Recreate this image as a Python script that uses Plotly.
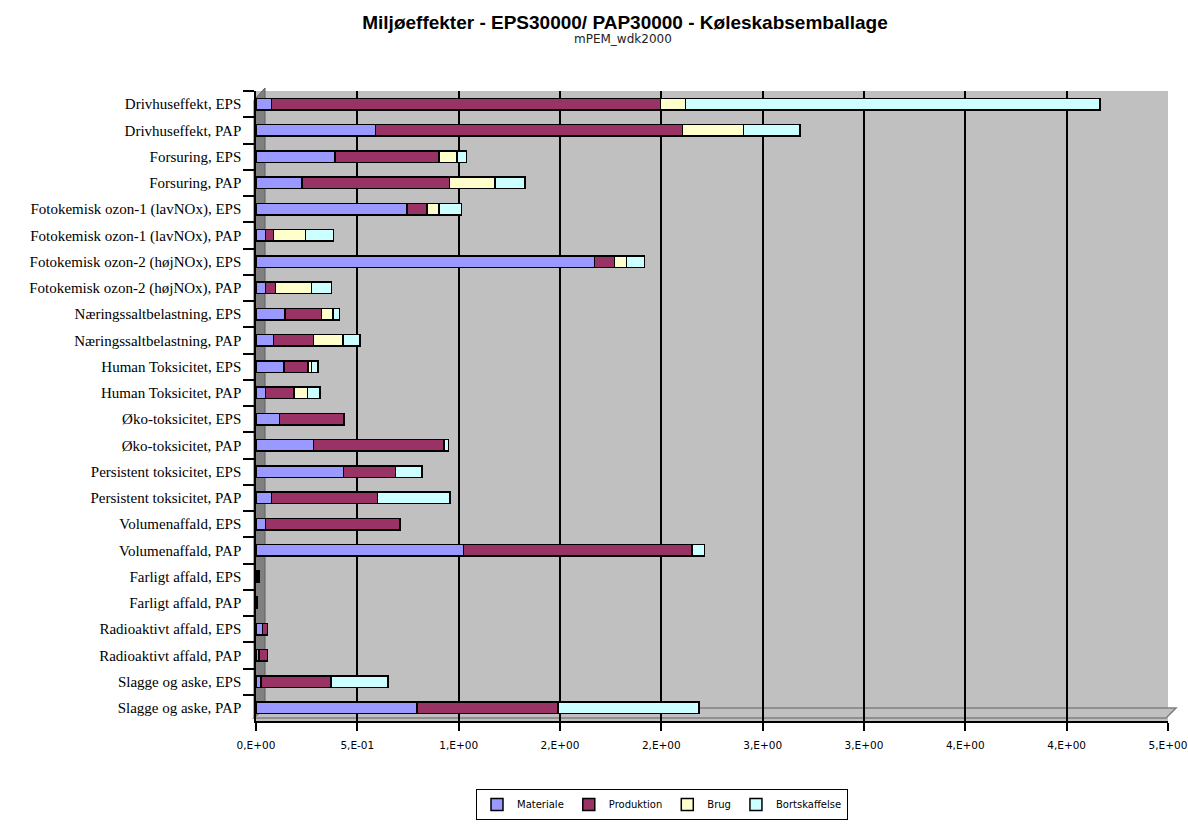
import plotly.graph_objects as go

categories = [
    "Drivhuseffekt, EPS", "Drivhuseffekt, PAP",
    "Forsuring, EPS", "Forsuring, PAP",
    "Fotokemisk ozon-1 (lavNOx), EPS", "Fotokemisk ozon-1 (lavNOx), PAP",
    "Fotokemisk ozon-2 (højNOx), EPS", "Fotokemisk ozon-2 (højNOx), PAP",
    "Næringssaltbelastning, EPS", "Næringssaltbelastning, PAP",
    "Human Toksicitet, EPS", "Human Toksicitet, PAP",
    "Øko-toksicitet, EPS", "Øko-toksicitet, PAP",
    "Persistent toksicitet, EPS", "Persistent toksicitet, PAP",
    "Volumenaffald, EPS", "Volumenaffald, PAP",
    "Farligt affald, EPS", "Farligt affald, PAP",
    "Radioaktivt affald, EPS", "Radioaktivt affald, PAP",
    "Slagge og aske, EPS", "Slagge og aske, PAP",
]

materiale = [0.077, 0.589, 0.390, 0.226, 0.746, 0.046, 1.670, 0.046, 0.144, 0.087,
             0.138, 0.046, 0.115, 0.284, 0.431, 0.077, 0.046, 1.023, 0.005, 0.002,
             0.033, 0.016, 0.025, 0.795]
produktion = [1.920, 1.516, 0.513, 0.728, 0.097, 0.041, 0.099, 0.049, 0.179, 0.197,
              0.118, 0.141, 0.319, 0.641, 0.258, 0.523, 0.664, 1.129, 0.005, 0.002,
              0.024, 0.041, 0.344, 0.694]
brug = [0.123, 0.300, 0.090, 0.226, 0.059, 0.156, 0.059, 0.180, 0.057, 0.146,
        0.018, 0.067, 0.000, 0.006, 0.000, 0.000, 0.000, 0.000, 0.000, 0.000,
        0.000, 0.000, 0.000, 0.000]
bortskaffelse = [2.045, 0.280, 0.046, 0.148, 0.111, 0.139, 0.090, 0.097, 0.033, 0.082,
                 0.031, 0.061, 0.000, 0.020, 0.131, 0.357, 0.000, 0.061, 0.008, 0.001,
                 0.000, 0.000, 0.283, 0.696]

series_names = ["Materiale", "Produktion", "Brug", "Bortskaffelse"]
series_values = [materiale, produktion, brug, bortskaffelse]
series_colors = ["#9999FF", "#993366", "#FFFFCC", "#CCFFFF"]

tick_vals = [0, 0.5, 1.0, 1.5, 2.0, 2.5, 3.0, 3.5, 4.0, 4.5]
tick_text = ["0,E+00", "5,E-01", "1,E+00", "2,E+00", "2,E+00",
             "3,E+00", "3,E+00", "4,E+00", "4,E+00", "5,E+00"]

fig = go.Figure()
for name, vals, col in zip(series_names, series_values, series_colors):
    fig.add_trace(go.Bar(
        y=categories, x=vals, name=name, orientation="h",
        marker=dict(color=col, line=dict(color="black", width=1.5)),
    ))

W, H = 1188, 824
L, R, T, B = 256, 20, 91, 103
pw, ph = W - L - R, H - T - B


def px(xp):
    return (xp - L) / pw


def py(yp):
    return (H - B - yp) / ph


left_wall = "M {:.4f},{:.4f} L {:.4f},{:.4f} L {:.4f},{:.4f} L {:.4f},{:.4f} Z".format(
    px(254), py(100), px(265), py(88), px(265), py(708), px(254), py(718))
floor = "M {:.4f},{:.4f} L {:.4f},{:.4f} L {:.4f},{:.4f} L {:.4f},{:.4f} Z".format(
    px(254), py(718), px(1166), py(718), px(1176), py(708), px(265), py(708))

shapes = [
    dict(type="path", xref="paper", yref="paper", layer="below", path=left_wall,
         fillcolor="#808080", line=dict(color="#606060", width=1)),
    dict(type="path", xref="paper", yref="paper", layer="below", path=floor,
         fillcolor="#C0C0C0", line=dict(color="#808080", width=1.5)),
]

fig.update_layout(
    width=W, height=H,
    margin=dict(l=L, r=R, t=T, b=B, autoexpand=False),
    paper_bgcolor="white",
    plot_bgcolor="#C0C0C0",
    barmode="stack",
    bargap=0.56,
    shapes=shapes,
    title=dict(
        text="<b>Miljøeffekter - EPS30000/ PAP30000 - Køleskabsemballage</b>",
        x=625 / W, xref="container", xanchor="center",
        y=1 - 22 / H, yref="container", yanchor="middle",
        font=dict(family="Liberation Sans, Arial, sans-serif", size=19, color="black"),
    ),
    annotations=[dict(
        text="mPEM_wdk2000", xref="paper", yref="paper",
        x=px(623), y=py(39), xanchor="center", yanchor="middle",
        showarrow=False,
        font=dict(family="DejaVu Sans, sans-serif", size=12, color="#222222"),
    )],
    legend=dict(
        orientation="h", x=px(662), xanchor="center", y=py(820), yanchor="bottom",
        bordercolor="black", borderwidth=1, bgcolor="white",
        font=dict(family="DejaVu Sans, sans-serif", size=10, color="black"),
        traceorder="normal", itemwidth=30,
    ),
    xaxis=dict(
        range=[0, 4.5001], tickvals=tick_vals, ticktext=tick_text,
        showgrid=True, gridcolor="black", gridwidth=1.5,
        zeroline=False, showline=True, linecolor="black", linewidth=1.5,
        ticks="outside", ticklen=8, tickwidth=1.5, tickcolor="black",
        ticklabelstandoff=6, automargin=False,
        tickfont=dict(family="DejaVu Sans, sans-serif", size=10.5, color="black"),
    ),
    yaxis=dict(
        autorange="reversed", type="category",
        showline=True, linecolor="black", linewidth=1.5,
        ticks="outside", ticklen=11, tickwidth=1.5, tickcolor="black",
        tickson="boundaries", showgrid=False, automargin=False,
        ticklabelstandoff=10,
        tickfont=dict(family="Liberation Serif, Times New Roman, serif", size=15, color="black"),
    ),
)

fig.write_html("out.html", config={"displayModeBar": False},
               post_script="document.body.style.margin='0px';")
